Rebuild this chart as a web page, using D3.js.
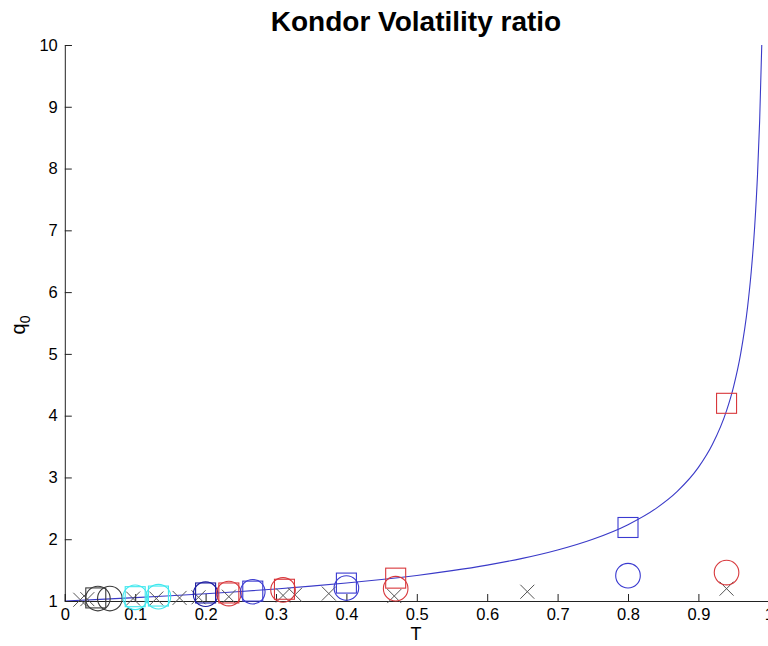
<!DOCTYPE html>
<html>
<head>
<meta charset="utf-8">
<script src="https://cdn.jsdelivr.net/npm/d3@7"></script>
<style>
  html, body { margin: 0; padding: 0; background: #ffffff; }
  svg { display: block; }
  text { font-family: "Liberation Sans", Arial, Helvetica, sans-serif; fill: #000; }
</style>
</head>
<body>
<svg id="chart" width="768" height="646"></svg>
<script>
// Reference curve q0(T)
const curveT = [0, 0.05, 0.1, 0.15, 0.2, 0.25, 0.3, 0.35, 0.4, 0.45, 0.5, 0.55, 0.6, 0.65, 0.7, 0.75, 0.8, 0.84, 0.87, 0.9, 0.92, 0.94, 0.95, 0.96, 0.97, 0.975, 0.98, 0.984, 0.987, 0.99];
const curveQ = [1.0, 1.026, 1.054, 1.085, 1.118, 1.155, 1.195, 1.240, 1.291, 1.348, 1.414, 1.491, 1.581, 1.690, 1.826, 2.0, 2.236, 2.5, 2.774, 3.162, 3.536, 4.082, 4.472, 5.0, 5.774, 6.325, 7.071, 7.906, 8.771, 10.0];

// Simulation results, grouped by marker colour and shape
const kSquareT = [0.044];
const kSquareQ = [1.05];
const kCircleT = [0.047, 0.064];
const kCircleQ = [1.04, 1.04];

const cSquareT = [0.1, 0.133];
const cSquareQ = [1.07, 1.08];
const cCircleT = [0.1, 0.133];
const cCircleQ = [1.06, 1.07];

const nSquareT = [0.2];
const nSquareQ = [1.13];
const nCircleT = [0.2];
const nCircleQ = [1.11];

const rSquareT = [0.233, 0.312, 0.47, 0.94];
const rSquareQ = [1.13, 1.19, 1.37, 4.2];
const rCircleT = [0.233, 0.31, 0.47, 0.94];
const rCircleQ = [1.12, 1.18, 1.20, 1.46];

const bSquareT = [0.267, 0.40, 0.80];
const bSquareQ = [1.16, 1.29, 2.19];
const bCircleT = [0.267, 0.40, 0.80];
const bCircleQ = [1.15, 1.21, 1.41];

const crossT = [0.022, 0.032, 0.097, 0.13, 0.163, 0.19, 0.233, 0.31, 0.327, 0.375, 0.468, 0.657, 0.94];
const crossQ = [1.02, 1.03, 1.04, 1.04, 1.05, 1.06, 1.07, 1.09, 1.10, 1.12, 1.08, 1.15, 1.20];

const xTicks = [0, 0.1, 0.2, 0.3, 0.4, 0.5, 0.6, 0.7, 0.8, 0.9, 1];
const yTicks = [1, 2, 3, 4, 5, 6, 7, 8, 9, 10];

const svg = d3.select("#chart");
const x = d3.scaleLinear().domain([0, 1]).range([64.8, 768.8]);
const y = d3.scaleLinear().domain([1, 10]).range([601, 45]);

const zip = (a, b) => a.map((v, i) => [v, b[i]]);

// Curve
const line = d3.line().x(d => x(d[0])).y(d => y(d[1])).curve(d3.curveMonotoneX);
svg.append("path")
  .datum(zip(curveT, curveQ))
  .attr("d", line)
  .attr("fill", "none")
  .attr("stroke", "#3a3ac8")
  .attr("stroke-width", 1.1);

// Axes (ticks pointing inward)
const xAxis = d3.axisBottom(x).tickValues(xTicks).tickSize(-7).tickPadding(11)
  .tickFormat(d => d === 0 ? "0" : d === 1 ? "1" : d3.format(".1f")(d));
const gx = svg.append("g").attr("transform", `translate(0,${y(1)})`).call(xAxis);
const yAxis = d3.axisLeft(y).tickValues(yTicks).tickSize(-7).tickPadding(7).tickFormat(d3.format("d"));
const gy = svg.append("g").attr("transform", `translate(${x(0)},0)`).call(yAxis);
[gx, gy].forEach(g => {
  g.select(".domain").attr("stroke", "#222").attr("stroke-width", 1);
  g.selectAll(".tick line").attr("stroke", "#222");
  g.selectAll(".tick text").attr("font-size", 16.5).attr("font-family", "Liberation Sans, Arial, sans-serif").attr("fill", "#000");
});
gx.selectAll(".tick text").attr("dy", "0.5em");

// Markers
function squares(T, Q, color) {
  svg.append("g").selectAll("rect").data(zip(T, Q)).join("rect")
    .attr("x", d => x(d[0]) - 10).attr("y", d => y(d[1]) - 10)
    .attr("width", 20).attr("height", 20)
    .attr("fill", "none").attr("stroke", color).attr("stroke-width", 1.1);
}
function circles(T, Q, color) {
  svg.append("g").selectAll("circle").data(zip(T, Q)).join("circle")
    .attr("cx", d => x(d[0])).attr("cy", d => y(d[1])).attr("r", 12.3)
    .attr("fill", "none").attr("stroke", color).attr("stroke-width", 1.1);
}
function crosses(T, Q, color) {
  const s = 7;
  svg.append("g").selectAll("path").data(zip(T, Q)).join("path")
    .attr("d", d => {
      const cx = x(d[0]), cy = y(d[1]);
      return `M${cx - s},${cy - s}L${cx + s},${cy + s}M${cx - s},${cy + s}L${cx + s},${cy - s}`;
    })
    .attr("fill", "none").attr("stroke", color).attr("stroke-width", 1);
}

crosses(crossT, crossQ, "#555555");
squares(kSquareT, kSquareQ, "#3a3a3a");
circles(kCircleT, kCircleQ, "#3a3a3a");
squares(cSquareT, cSquareQ, "#40e8ee");
circles(cCircleT, cCircleQ, "#40e8ee");
squares(nSquareT, nSquareQ, "#1c1ca0");
circles(nCircleT, nCircleQ, "#1c1ca0");
squares(rSquareT, rSquareQ, "#d8383c");
circles(rCircleT, rCircleQ, "#d8383c");
squares(bSquareT, bSquareQ, "#3a3ad0");
circles(bCircleT, bCircleQ, "#3a3ad0");

// Title and axis labels
svg.append("text").attr("x", 416).attr("y", 31).attr("text-anchor", "middle")
  .attr("font-size", 28).attr("font-weight", "bold").text("Kondor Volatility ratio");
svg.append("text").attr("x", 416).attr("y", 640).attr("text-anchor", "middle")
  .attr("font-size", 18).text("T");
const ql = svg.append("text").attr("transform", "translate(25,325) rotate(-90)")
  .attr("text-anchor", "middle").attr("font-size", 20);
ql.append("tspan").text("q");
ql.append("tspan").attr("dy", 5).attr("font-size", 14).text("0");
</script>
</body>
</html>
